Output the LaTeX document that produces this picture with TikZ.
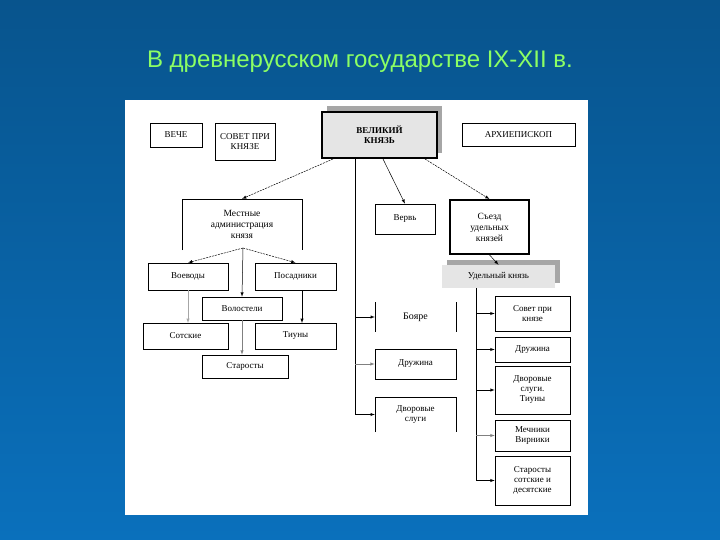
\documentclass[tikz,border=0pt]{standalone}
\usepackage{fontspec}
\setmainfont{Liberation Serif}
\newfontfamily\titlefont{Liberation Sans}
\definecolor{bgblue}{RGB}{10,112,188}
\definecolor{ttl}{RGB}{140,255,100}
\begin{document}
\begin{tikzpicture}[x=1pt,y=-1pt,
  bx/.style={draw,line width=0.6pt,align=center,font=\fontsize{9}{10}\selectfont,inner sep=1pt},
  ar/.style={-latex,line width=0.5pt},
  da/.style={-latex,line width=0.5pt,dashed,dash pattern=on 2pt off 1pt}]
\useasboundingbox (0,0) rectangle (720,540);
\shade[top color=bgblue!75!black,bottom color=bgblue] (0,0) rectangle (720,540);
\node[font=\titlefont\fontsize{24}{26}\selectfont,text=ttl] (title) at (360,62) {В древнерусском государстве IX-XII в.};
\fill[white] (125,100) rectangle (588,515);
% top row
\node[bx,minimum width=52,minimum height=24] (veche) at (176,135) {ВЕЧЕ};
\node[bx,minimum width=60,minimum height=37] (sovet) at (245,141.5) {СОВЕТ ПРИ\\КНЯЗЕ};
\fill[gray!70] (327,106) rectangle (442,153);
\node[draw,line width=2pt,fill=gray!20,minimum width=115,minimum height=46,align=center,font=\bfseries\fontsize{9}{10}\selectfont] (vk) at (379.5,135) {ВЕЛИКИЙ\\КНЯЗЬ};
\node[bx,minimum width=113,minimum height=23] (arch) at (518.5,134.5) {АРХИЕПИСКОП};
% left branch
\node[minimum width=120,minimum height=51,align=center,font=\fontsize{9.5}{11}\selectfont] (mest) at (242,224.5) {Местные\\администрация\\князя};
\draw[line width=0.6pt] (182,250)--(182,199)--(302,199)--(302,250);
\node[bx,minimum width=80,minimum height=27] (voev) at (188,276.5) {Воеводы};
\node[bx,minimum width=81,minimum height=27] (posad) at (295.5,276.5) {Посадники};
\node[bx,minimum width=80,minimum height=23] (volost) at (242,308.5) {Волостели};
\node[bx,minimum width=85,minimum height=26] (sotsk) at (185.5,336) {Сотские};
\node[bx,minimum width=81,minimum height=26] (tiun) at (295.5,336) {Тиуны};
\node[bx,minimum width=86,minimum height=23] (star) at (245,366.5) {Старосты};
% middle
\node[bx,minimum width=60,minimum height=30] (verv) at (405,219) {Вервь};
\node[draw,line width=1.8pt,minimum width=79,minimum height=54,align=center,font=\fontsize{9.5}{11}\selectfont] (sjezd) at (489.5,227) {Съезд\\удельных\\князей};
\fill[gray!70] (447,260) rectangle (560,283);
\node[fill=gray!20,minimum width=113,minimum height=23,font=\fontsize{9}{10}\selectfont] (udel) at (498.5,276.5) {Удельный князь};
\node[minimum width=81,minimum height=30,font=\fontsize{10}{11}\selectfont] (boyare) at (415.5,317) {Бояре};
\draw[line width=0.6pt] (375,302)--(375,332) (456,302)--(456,332);
\node[bx,minimum width=81,minimum height=30] (druzh) at (415.5,364) {Дружина};
\node[minimum width=81,minimum height=35,align=center,font=\fontsize{9}{10}\selectfont] (dvor) at (415.5,414.5) {Дворовые\\слуги};
\draw[line width=0.6pt] (375,432)--(375,397)--(456,397)--(456,432);
% right column
\node[bx,minimum width=75,minimum height=35] (r1) at (532.5,313.5) {Совет при\\князе};
\node[bx,minimum width=75,minimum height=25] (r2) at (532.5,349.5) {Дружина};
\node[bx,minimum width=75,minimum height=48] (r3) at (532.5,390) {Дворовые\\слуги.\\Тиуны};
\node[bx,minimum width=75,minimum height=31] (r4) at (532.5,435.5) {Мечники\\Вирники};
\node[bx,minimum width=75,minimum height=49] (r5) at (532.5,480.5) {Старосты\\сотские и\\десятские};
% connectors
\draw[da] (333,159) -- (mest.north);
\draw[ar] (383,159) -- (verv.north);
\draw[da] (425,159) -- (sjezd.north);
\coordinate (mb) at (243,248);
\draw[da] (mb) -- (voev.north);
\draw[da] (mb) -- (posad.north);
\draw[ar] (mb) -- (volost.north);
\draw[ar,gray] (volost.south) -- (volost.south |- star.north);
\draw[ar,gray!70] (188,290) -- (188,323);
\draw[ar] (302,290) -- (302,323);
\draw[ar] (sjezd.south) -- (udel.north);
\coordinate (vtop) at (355,158);
\coordinate (vbot) at (355,414.5);
\draw[line width=0.6pt] (vtop) -- (vbot);
\draw[ar] (boyare.west -| vtop) -- (boyare.west);
\draw[ar,gray] (druzh.west -| vtop) -- (druzh.west);
\draw[ar] (vbot) -- (dvor.west);
\coordinate (rtop) at (476,288);
\coordinate (rbot) at (476,480.5);
\draw[line width=0.6pt] (rtop) -- (rbot);
\draw[ar] (r1.west -| rtop) -- (r1.west);
\draw[ar] (r2.west -| rtop) -- (r2.west);
\draw[ar] (r3.west -| rtop) -- (r3.west);
\draw[ar,gray] (r4.west -| rtop) -- (r4.west);
\draw[ar] (rbot) -- (r5.west);
\end{tikzpicture}
\end{document}
